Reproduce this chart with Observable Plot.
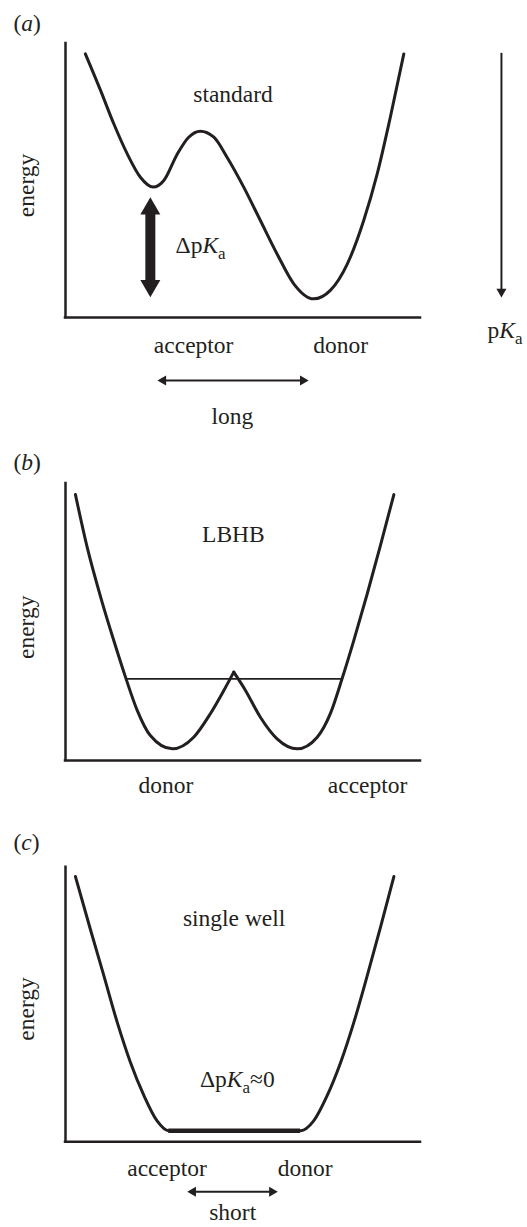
<!DOCTYPE html>
<html>
<head>
<meta charset="utf-8">
<script src="https://cdn.jsdelivr.net/npm/d3@7"></script>
<script src="https://cdn.jsdelivr.net/npm/@observablehq/plot@0.6"></script>
<style>
  body { margin: 0; background: #fff; }
  #chart svg { display: block; }
</style>
</head>
<body>
<div id="chart"></div>
<script>
// ---------- DATA (reaction coordinate 0–100, energy 0–100) ----------
// (a) standard hydrogen bond
const curveA_x = [5.6, 9.9, 13.6, 17.4, 21.1, 24.7, 27.7, 31.5, 34.7, 38.0, 41.8, 45.5, 50.2, 54.9, 59.6, 64.3, 69.9, 74.6, 79.4, 84.0, 87.8, 91.5, 95.3];
const curveA_y = [96.2, 82.8, 70.7, 59.7, 51.2, 47.6, 50.0, 59.7, 65.8, 68.0, 65.8, 58.5, 47.6, 35.4, 23.2, 12.3, 6.8, 9.9, 19.6, 35.4, 52.4, 73.1, 96.2];
// (b) low-barrier hydrogen bond: left well up to the cusp, right well from the cusp
const curveB1_x = [2.8, 6.1, 9.9, 13.6, 16.9, 20.2, 23.9, 30.1, 36.1, 40.8, 44.6, 47.4];
const curveB1_y = [96.0, 77.0, 59.0, 43.3, 30.1, 18.1, 9.0, 4.2, 8.4, 16.9, 25.3, 31.9];
const curveB2_x = [47.4, 50.7, 54.9, 59.6, 65.3, 70.9, 74.6, 77.9, 81.2, 85.0, 88.7, 92.5];
const curveB2_y = [31.9, 25.3, 15.6, 7.8, 4.2, 8.4, 16.9, 29.5, 43.3, 60.2, 77.6, 96.0];
const levelB = {y: 29.5, x1: 17.4, x2: 78.2};
// (c) single well
const curveC_x = [2.8, 7.0, 10.8, 14.6, 18.3, 22.1, 25.8, 29.1, 66.2, 69.9, 73.7, 77.5, 81.2, 85.0, 88.7, 92.5];
const curveC_y = [96.6, 77.4, 60.5, 43.4, 28.9, 16.8, 7.6, 4.0, 4.0, 7.6, 16.8, 28.9, 43.4, 60.5, 78.0, 96.6];
const flatC = {y: 4.0, x1: 29.1, x2: 66.2};

// arrows (data units)
const dpkaArrowA = {x: 23.9, y1: 43.9, y2: 7.4};
const longArrowA = {y: -23.0, x1: 25.9, x2: 68.5};
const pkaArrowA  = {x: 122.8, y1: 96.4, y2: 7.3};
const shortArrowC = {y: -18.2, x1: 34.3, x2: 59.8};

// labels
const labelsA = [
  {text: "(a)", x: -14.65, y: 104.4, anchor: "start"},
  {text: "standard", x: 47.2, y: 78.6, anchor: "middle"},
  {text: "ΔpKa", x: 31.0, y: 23.5, anchor: "start"},
  {text: "acceptor", x: 36.1, y: -13.1, anchor: "middle"},
  {text: "donor", x: 77.5, y: -13.1, anchor: "middle"},
  {text: "long", x: 47.0, y: -38.7, anchor: "middle"},
  {text: "pKa", x: 118.9, y: -7.3, anchor: "start"}
];
const labelsB = [
  {text: "(b)", x: -14.65, y: 104.9, anchor: "start"},
  {text: "LBHB", x: 47.3, y: 78.8, anchor: "middle"},
  {text: "donor", x: 28.3, y: -11.9, anchor: "middle"},
  {text: "acceptor", x: 85.1, y: -11.9, anchor: "middle"}
];
const labelsC = [
  {text: "(c)", x: -14.65, y: 106.1, anchor: "start"},
  {text: "single well", x: 47.5, y: 78.7, anchor: "middle"},
  {text: "ΔpKa≈0", x: 48.4, y: 20.1, anchor: "middle"},
  {text: "acceptor", x: 28.6, y: -12.3, anchor: "middle"},
  {text: "donor", x: 67.5, y: -12.3, anchor: "middle"},
  {text: "short", x: 47.1, y: -28.6, anchor: "middle"}
];
const yLabel = "energy";
const yLabelPos = [{x: -8.87, yA: 48.2, yB: 48.1, yC: 48.4}];
const axisSpan = [0, 100];

// ---------- DRAWING ----------
const INK = "#231f20";
const FONT = "'Liberation Serif','Times New Roman',serif";
const FS = 23.5;

const pts = (xs, ys) => xs.map((x, i) => ({x, y: ys[i]}));

function axesMarks() {
  return [
    Plot.ruleX([{x: axisSpan[0], y1: axisSpan[1], y2: axisSpan[0]}], {x: "x", y1: "y1", y2: "y2", stroke: INK, strokeWidth: 2.5, strokeLinecap: "square"}),
    Plot.ruleY([{y: axisSpan[0], x1: axisSpan[0], x2: axisSpan[1]}], {y: "y", x1: "x1", x2: "x2", stroke: INK, strokeWidth: 2.5, strokeLinecap: "square"})
  ];
}
function curve(xs, ys, w = 3) {
  return Plot.line(pts(xs, ys), {x: "x", y: "y", curve: "monotone-x", stroke: INK, strokeWidth: w, strokeLinecap: "round"});
}
function labelMarks(labels) {
  return labels.map(l => Plot.text([l], {x: "x", y: "y", text: "text", textAnchor: l.anchor, lineAnchor: "bottom", fontSize: FS, fill: INK}));
}
function yTitle(yv) {
  return Plot.text([{x: yLabelPos[0].x, y: yv, t: yLabel}], {x: "x", y: "y", text: "t", rotate: -90, textAnchor: "middle", lineAnchor: "bottom", fontSize: FS, fill: INK});
}
// horizontal thin double arrow
function hArrow(a) {
  const TIP = 5.77, R = 3.72;
  return [
    Plot.ruleY([a], {y: "y", x1: "x1", x2: "x2", stroke: INK, strokeWidth: 2, insetLeft: 6, insetRight: 6}),
    Plot.dot([{x: a.x2, y: a.y}], {x: "x", y: "y", symbol: "triangle", r: R, fill: INK, rotate: 90, dx: -TIP}),
    Plot.dot([{x: a.x1, y: a.y}], {x: "x", y: "y", symbol: "triangle", r: R, fill: INK, rotate: -90, dx: TIP})
  ];
}

function panel(height, marginTop, marginBottom, marks) {
  return Plot.plot({
    width: 527, height, marginLeft: 65, marginRight: 107, marginTop, marginBottom,
    x: {domain: [0, 100], axis: null},
    y: {domain: [0, 100], axis: null},
    style: {fontFamily: FONT, fontSize: FS + "px", color: INK, background: "#fff", overflow: "visible"},
    marks: [...axesMarks(), ...marks]
  });
}

const svgA = panel(430, 43, 113, [
  curve(curveA_x, curveA_y),
  // thick ΔpKa double arrow
  Plot.ruleX([dpkaArrowA], {x: "x", y1: "y1", y2: "y2", stroke: INK, strokeWidth: 10, insetTop: 14, insetBottom: 14}),
  Plot.dot([{x: dpkaArrowA.x, y: dpkaArrowA.y1}], {x: "x", y: "y", symbol: "triangle", r: 7.42, fill: INK, dy: 11.55}),
  Plot.dot([{x: dpkaArrowA.x, y: dpkaArrowA.y2}], {x: "x", y: "y", symbol: "triangle", r: 7.42, fill: INK, rotate: 180, dy: -11.55}),
  ...hArrow(longArrowA),
  // pKa arrow
  Plot.ruleX([pkaArrowA], {x: "x", y1: "y1", y2: "y2", stroke: INK, strokeWidth: 2, insetBottom: 6}),
  Plot.dot([{x: pkaArrowA.x, y: pkaArrowA.y2}], {x: "x", y: "y", symbol: "triangle", r: 3.72, fill: INK, rotate: 180, dy: -5.77}),
  yTitle(yLabelPos[0].yA),
  ...labelMarks(labelsA)
]);

const svgB = panel(380, 53, 50, [
  curve(curveB1_x, curveB1_y),
  curve(curveB2_x, curveB2_y),
  Plot.ruleY([levelB], {y: "y", x1: "x1", x2: "x2", stroke: INK, strokeWidth: 1.8}),
  yTitle(yLabelPos[0].yB),
  ...labelMarks(labelsB)
]);

const svgC = panel(417, 56.7, 85.7, [
  curve(curveC_x, curveC_y),
  Plot.ruleY([flatC], {y: "y", x1: "x1", x2: "x2", stroke: INK, strokeWidth: 4.5}),
  ...hArrow(shortArrowC),
  yTitle(yLabelPos[0].yC),
  ...labelMarks(labelsC)
]);

// ---------- rich text (italics / subscripts) ----------
const NS = "http://www.w3.org/2000/svg";
const RICH = {
  "(a)": [{t: "("}, {t: "a", i: true}, {t: ")"}],
  "(b)": [{t: "("}, {t: "b", i: true}, {t: ")"}],
  "(c)": [{t: "("}, {t: "c", i: true}, {t: ")"}],
  "ΔpKa": [{t: "Δp"}, {t: "K", i: true}, {t: "a", sub: true}],
  "pKa": [{t: "p"}, {t: "K", i: true}, {t: "a", sub: true}],
  "ΔpKa≈0": [{t: "Δp"}, {t: "K", i: true}, {t: "a", sub: true}, {t: "≈0", back: true}]
};
function richify(svg) {
  svg.querySelectorAll("text").forEach(el => {
    const parts = RICH[el.textContent];
    if (!parts) return;
    el.textContent = "";
    for (const p of parts) {
      const ts = document.createElementNS(NS, "tspan");
      ts.textContent = p.t;
      if (p.i) ts.setAttribute("font-style", "italic");
      if (p.sub) { ts.setAttribute("font-size", "17"); ts.setAttribute("dy", "6"); }
      if (p.back) ts.setAttribute("dy", "-6");
      el.appendChild(ts);
    }
  });
}

const root = document.getElementById("chart");
for (const s of [svgA, svgB, svgC]) { richify(s); root.appendChild(s); }
</script>
</body>
</html>
